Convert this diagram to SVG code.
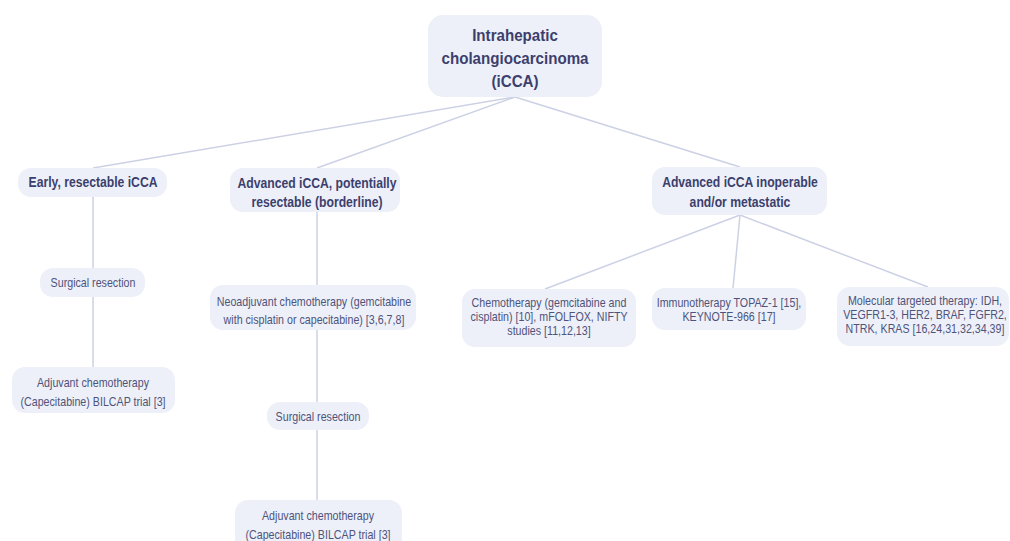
<svg xmlns="http://www.w3.org/2000/svg" width="1010" height="541" viewBox="0 0 1010 541">
<style>
  .box { fill: #edf0f9; }
  .t { font-family: "Liberation Sans", Arial, sans-serif; text-anchor: middle; }
  .b17 { font-size: 17px; font-weight: bold; fill: #3c3f6c; }
  .b14 { font-size: 14px; font-weight: bold; fill: #3c3f6c; }
  .r12 { font-size: 12px; fill: #4f5379; }
  .conn line { stroke: #cdd1e5; stroke-width: 1.5; }
</style>
<rect width="1010" height="541" fill="#ffffff"/>
<g class="conn" id="connectors">
  <line x1="515" y1="97" x2="93" y2="168"/>
  <line x1="515" y1="97" x2="317" y2="168"/>
  <line x1="515" y1="97" x2="740" y2="167"/>
  <line x1="93" y1="197" x2="93" y2="268"/>
  <line x1="93" y1="297" x2="93" y2="367"/>
  <line x1="317" y1="212" x2="317" y2="285"/>
  <line x1="317" y1="330" x2="317" y2="402"/>
  <line x1="317" y1="430" x2="317" y2="500"/>
  <line x1="740" y1="215" x2="545" y2="289"/>
  <line x1="740" y1="215" x2="733" y2="288"/>
  <line x1="740" y1="215" x2="928" y2="287"/>
</g>
<g id="root">
  <rect class="box" x="428" y="15" width="174" height="82" rx="15"/>
  <text class="t b17" transform="translate(515,0) scale(0.89,1)"><tspan x="0" y="41">Intrahepatic</tspan><tspan x="0" y="64">cholangiocarcinoma</tspan><tspan x="0" y="87">(iCCA)</tspan></text>
</g>
<g id="early">
  <rect class="box" x="18" y="168" width="149" height="29" rx="13"/>
  <text class="t b14" transform="translate(93,187) scale(0.87,1)" x="0" y="0">Early, resectable iCCA</text>
</g>
<g id="borderline">
  <rect class="box" x="230" y="168" width="170" height="44" rx="13"/>
  <text class="t b14" transform="translate(317,0) scale(0.87,1)"><tspan x="0" y="188">Advanced iCCA, potentially</tspan><tspan x="0" y="207">resectable (borderline)</tspan></text>
</g>
<g id="inoperable">
  <rect class="box" x="652" y="167" width="175" height="48" rx="13"/>
  <text class="t b14" transform="translate(740,0) scale(0.87,1)"><tspan x="0" y="187">Advanced iCCA inoperable</tspan><tspan x="0" y="207">and/or metastatic</tspan></text>
</g>
<g id="surgical1">
  <rect class="box" x="40" y="268" width="105" height="29" rx="13"/>
  <text class="t r12" transform="translate(93,287) scale(0.89,1)" x="0" y="0">Surgical resection</text>
</g>
<g id="adjuvant1">
  <rect class="box" x="12" y="367" width="163" height="46" rx="13"/>
  <text class="t r12" transform="translate(93,0) scale(0.89,1)"><tspan x="0" y="387">Adjuvant chemotherapy</tspan><tspan x="0" y="406">(Capecitabine) BILCAP trial [3]</tspan></text>
</g>
<g id="neoadjuvant">
  <rect class="box" x="210" y="285" width="206" height="45" rx="13"/>
  <text class="t r12" transform="translate(314,0) scale(0.89,1)"><tspan x="0" y="306">Neoadjuvant chemotherapy (gemcitabine</tspan><tspan x="0" y="324">with cisplatin or capecitabine) [3,6,7,8]</tspan></text>
</g>
<g id="surgical2">
  <rect class="box" x="267" y="402" width="102" height="28" rx="13"/>
  <text class="t r12" transform="translate(318,421) scale(0.89,1)" x="0" y="0">Surgical resection</text>
</g>
<g id="adjuvant2">
  <rect class="box" x="235" y="500" width="167" height="52" rx="13"/>
  <text class="t r12" transform="translate(318,0) scale(0.89,1)"><tspan x="0" y="520">Adjuvant chemotherapy</tspan><tspan x="0" y="539">(Capecitabine) BILCAP trial [3]</tspan></text>
</g>
<g id="chemo">
  <rect class="box" x="462" y="289" width="174" height="58" rx="13"/>
  <text class="t r12" transform="translate(549,0) scale(0.89,1)"><tspan x="0" y="307">Chemotherapy (gemcitabine and</tspan><tspan x="0" y="321">cisplatin) [10], mFOLFOX, NIFTY</tspan><tspan x="0" y="335">studies [11,12,13]</tspan></text>
</g>
<g id="immuno">
  <rect class="box" x="652" y="288" width="154" height="42" rx="13"/>
  <text class="t r12" transform="translate(729,0) scale(0.89,1)"><tspan x="0" y="307">Immunotherapy TOPAZ-1 [15],</tspan><tspan x="0" y="321">KEYNOTE-966 [17]</tspan></text>
</g>
<g id="molecular">
  <rect class="box" x="837" y="287" width="172" height="59" rx="13"/>
  <text class="t r12" transform="translate(925,0) scale(0.89,1)"><tspan x="0" y="305">Molecular targeted therapy: IDH,</tspan><tspan x="0" y="319">VEGFR1-3, HER2, BRAF, FGFR2,</tspan><tspan x="0" y="333">NTRK, KRAS [16,24,31,32,34,39]</tspan></text>
</g>
</svg>
